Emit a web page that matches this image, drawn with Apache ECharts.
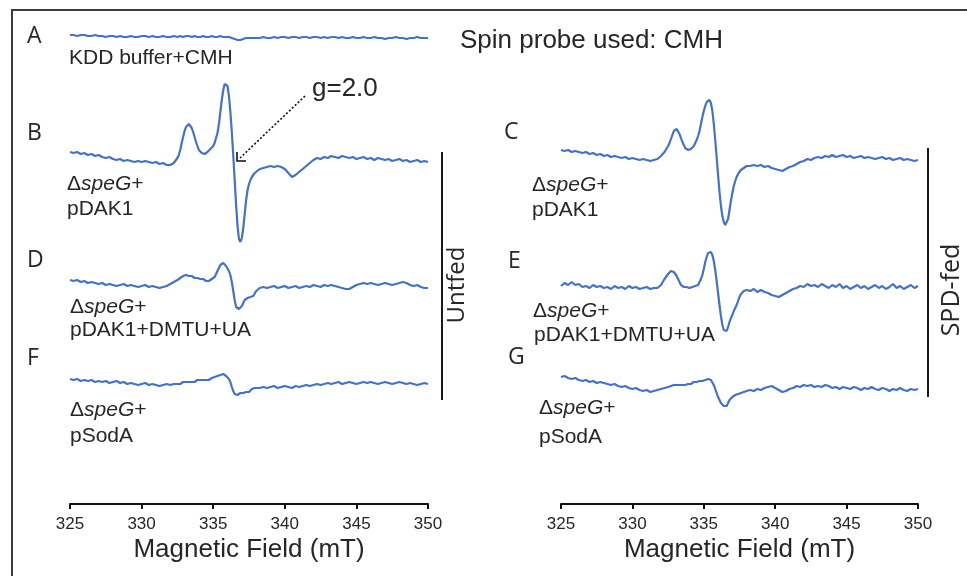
<!DOCTYPE html>
<html>
<head>
<meta charset="utf-8">
<script src="https://cdn.jsdelivr.net/npm/echarts@6/dist/echarts.min.js"></script>
<style>
html,body{margin:0;padding:0;background:#fff;}
#chart{width:967px;height:576px;}
</style>
</head>
<body>
<div id="chart"></div>
<script>
// ---------------- DATA ----------------
// Magnetic field (mT) sample positions shared by all spectra
const field = [
325,325.25,325.5,325.75,326,326.25,326.5,326.75,327,327.25,327.5,327.75,328,328.25,328.5,328.75,329,329.25,329.5,329.75,330,330.25,330.5,330.75,331,331.25,331.5,331.75,332,332.25,332.5,
332.6,332.7,332.8,332.9,333,333.1,333.2,333.3,333.4,333.5,333.6,333.7,333.8,333.9,334,334.1,334.2,334.3,334.4,334.5,334.6,334.7,334.8,334.9,335,335.1,335.2,335.3,335.4,335.5,335.6,335.7,335.8,335.9,336,336.1,336.2,336.3,336.4,336.5,336.6,336.7,336.8,336.9,337,337.1,337.2,337.3,337.4,337.5,337.6,337.7,337.8,337.9,338,
338.25,338.5,338.75,339,339.25,339.5,339.75,340,340.25,340.5,340.75,341,341.25,341.5,341.75,342,342.25,342.5,342.75,343,343.25,343.5,343.75,344,344.25,344.5,344.75,345,345.25,345.5,345.75,346,346.25,346.5,346.75,347,347.25,347.5,347.75,348,348.25,348.5,348.75,349,349.25,349.5,349.75,350
];
// EPR signal (arbitrary units) for each sample
const specA = [
2,2,1,2,2,1,1,2,1,1,0,1,1,0,1,0,0,1,0,0,1,1,0,1,0,0,1,0,0,1,0,
0,1,0,0,1, 1,0,1,1,0,0,1,0,0,1, 0,0,1,0,0,1,0,0,1,0, 0,1,0,0,1,0,0,1,0,0, 0,0,-1,-1,-2,-3,-3,-3,-3,-2, -2,-2,-1,-2,-1,-1,-1,-2,-1,-1,
-1,0,-1,-1,0,-1,0,0, -1,0,0,-1,0,0,-1,0, 0,-1,0,-1,0,0,-1,0, -1,-1,0,-1,-1,0,-1,-1, 0,-1,-1,-2,-1,-1,0,-1, -1,-2,-1,-1,0,-1,-1,-1
];
const specB = [
8,7,8,6,7,5,6,4,5,3,2,3,1,0,1,-1,0,-1,-2,-1,-2,-1,-2,-3,-2,-4,-3,-5,-5,-3,2,
5,10,17,23,29, 33,35,36,35,32,28,23,18,14,10, 8,7,6,6,7,8,10,11,12,14, 17,22,27,36,48,60,70,76,77,74, 64,48,28,5,-20,-45,-66,-79,-82,-78, -68,-54,-40,-30,-24,-20,-17,-15,-13,-11,
-9,-8,-7,-6,-7,-6,-7,-9, -13,-17,-15,-12,-9,-6,-3,0, 2,1,3,2,4,3,2,4, 3,2,3,1,2,3,1,2, 0,2,1,0,1,-1,0,1, -1,0,-2,-1,0,-2,-1,-2
];
const specD = [
6,5,6,4,5,3,4,3,2,3,1,2,1,0,1,2,0,1,0,-1,0,1,-1,0,-1,-2,-1,0,2,4,6,
7,8,9,10,10, 11,11,10,11,10,9,8,9,8,7, 7,6,7,6,5,6,5,6,7,7, 9,12,15,18,21,23,23,22,20,18, 15,11,4,-5,-14,-21,-23,-23,-22,-20, -17,-14,-13,-12,-13,-11,-12,-10,-8,-5,
-2,-1,-2,-1,0,-2,-1,0, -2,-1,0,-2,-1,0,-1,1, 0,-1,1,0,1,0,-1,-2, -3,-3,-1,1,2,3,2,3, 2,1,2,3,2,1,2,3, 4,3,1,0,1,-1,-2,-2
];
const specF = [
5,4,5,3,4,3,4,2,3,2,3,1,2,3,1,2,0,1,0,-1,0,1,-1,0,-1,-2,-1,0,-1,0,0,
1,0,1,2,1, 2,1,2,3,2,3,2,3,4,3, 4,3,4,5,4,5,4,5,6,6, 7,7,8,9,9,10,10,9,8,7, 5,2,-3,-7,-10,-11,-11,-10,-9,-10, -9,-8,-8,-7,-8,-6,-5,-6,-4,-5,
-4,-3,-4,-3,-2,-4,-3,-2, -3,-4,-2,-3,-2,-1,-2,-1, 0,-1,0,1,0,1,2,0, 1,2,1,0,1,2,1,2, 1,0,1,2,1,0,1,2, 1,0,1,0,-1,0,1,0
];
const specC = [
8,7,8,6,7,6,5,6,4,5,3,4,2,3,1,2,1,0,1,-1,0,-1,-2,-1,-2,-3,-2,-1,2,6,12,
15,19,23,27,29, 29,27,24,20,16,13,10,9,8,9, 9,10,12,14,18,22,27,34,41,47, 52,56,58,58,55,47,34,18,1,-17, -34,-48,-58,-64,-67,-66,-61,-52,-43,-35, -28,-23,-19,-16,-14,-12,-11,-10,-9,-8,
-8,-7,-8,-7,-9,-8,-10,-11, -12,-13,-11,-9,-8,-6,-4,-3, -1,-2,0,1,0,2,1,3, 1,2,3,1,2,0,1,2, 0,1,0,-1,0,1,-1,0, -2,-1,0,-2,-1,-2,-3,-2
];
const specE = [
1,4,2,5,2,3,0,1,-1,2,0,1,-1,0,-2,1,-1,0,-2,1,-1,0,-2,-1,0,-2,-1,-1,2,8,13,
14,16,15,15,13, 11,8,5,2,1,0,2,0,1,-1, 1,0,2,1,3,2,4,8,12,18, 25,30,34,36,35,32,26,17,6,-6, -18,-29,-38,-43,-45,-44,-40,-35,-31,-28, -24,-21,-18,-14,-10,-7,-5,-4,-3,-3,
-4,-2,-5,-3,-5,-6,-8,-9, -10,-8,-6,-4,-2,-1,1,0, 3,1,2,0,3,1,-1,2, 0,3,-1,1,-2,0,2,-1, 1,-2,0,2,-1,1,-2,0, 3,-1,1,-2,0,2,-1,1
];
const specG = [
10,11,9,8,9,7,6,7,5,6,4,5,4,3,2,3,1,0,1,-1,-2,-1,-3,-4,-3,-5,-4,-3,-2,-1,0,
0,1,0,2,1, 2,1,2,3,2,3,2,4,3,4, 3,4,5,4,5,4,6,5,6,6, 7,7,8,8,7,5,2,-2,-6,-10, -13,-16,-18,-19,-20,-19,-16,-13,-11,-10, -9,-8,-7,-7,-6,-6,-5,-5,-4,-4,
-3,-4,-2,-3,-1,0,1,-1, -3,-5,-4,-2,-1,1,0,2, 1,2,0,1,0,2,1,-1, 0,-2,0,-1,-2,0,-1,-3, -1,-2,0,-2,-3,-1,-2,-4, -2,-3,-1,-3,-4,-2,-3,-2
];
// axis range and tick step (mT)
const fieldMin = 325, fieldMax = 350, fieldStep = 5;
// texts
const panelLetters = ['A','B','D','F','C','E','G'];
const bufferLabel = 'KDD buffer+CMH';
const plasmidLabels = ['pDAK1', 'pDAK1+DMTU+UA', 'pSodA'];
const titleText = 'Spin probe used: CMH';
const gLabel = 'g=2.0';
const conditionLabels = ['Untfed', 'SPD-fed'];
const axisTitle = 'Magnetic Field (mT)';

// ---------------- LAYOUT ----------------
const LINE = '#4472C4';
const TXT = '#262626';
const SANS = '"Liberation Sans", Arial, sans-serif';
const OPEN = '"Open Sans", "Liberation Sans", sans-serif';
const spectra = [specA, specB, specD, specF, specC, specE, specG];
// [left, width, centerY, halfHeight, showAxis]
const layout = [
  [70, 358, 37, 30, false],
  [70, 358, 160, 100, false],
  [70, 358, 286, 60, false],
  [70, 358, 384, 120, true],
  [561, 357, 158, 100, false],
  [561, 357, 287, 60, false],
  [561, 357, 387, 117, true]
];

const grids = [], xAxes = [], yAxes = [], series = [];
layout.forEach((L, i) => {
  const [left, width, cy, h, showAxis] = L;
  grids.push({ left: left, width: width, top: cy - h, height: 2 * h, containLabel: false });
  xAxes.push({
    type: 'value', gridIndex: i, min: fieldMin, max: fieldMax, interval: fieldStep,
    show: showAxis, position: 'bottom',
    axisLine: { show: true, onZero: false, lineStyle: { color: '#111', width: 2 } },
    axisTick: { show: true, inside: false, length: 5, lineStyle: { color: '#111', width: 2 } },
    axisLabel: { show: true, margin: 12, fontSize: 17, color: TXT, fontFamily: SANS },
    splitLine: { show: false },
    name: showAxis ? axisTitle : '', nameLocation: 'middle', nameGap: 33,
    nameTextStyle: { fontSize: 26, color: TXT, fontFamily: SANS }
  });
  yAxes.push({ type: 'value', gridIndex: i, min: -h, max: h, show: false });
  const spec = spectra[i];
  series.push({
    type: 'line', xAxisIndex: i, yAxisIndex: i,
    data: field.map((f, k) => [f, spec[k]]),
    showSymbol: false, symbol: 'none', smooth: false,
    lineStyle: { color: LINE, width: 2.2 },
    silent: true, animation: false, clip: false
  });
});

function txt(x, y, text, size, family, extra) {
  return {
    type: 'text', x: x, y: y, silent: true,
    style: Object.assign({ text: text, fill: TXT, fontSize: size, fontFamily: family,
      textAlign: 'left', textVerticalAlign: 'middle' }, extra || {})
  };
}
function strain(x, y) {
  return {
    type: 'text', x: x, y: y, silent: true,
    style: {
      text: '{n|Δ}{i|speG}{n|+}', textAlign: 'left', textVerticalAlign: 'middle',
      rich: {
        n: { fontSize: 21, fontFamily: SANS, fill: TXT, color: TXT },
        i: { fontSize: 21, fontFamily: SANS, fontStyle: 'italic', fill: TXT, color: TXT }
      }
    }
  };
}

const graphics = [
  // frame
  { type: 'line', silent: true, shape: { x1: 12, y1: 10, x2: 967, y2: 10 }, style: { stroke: '#3c3c3c', lineWidth: 2 } },
  { type: 'line', silent: true, shape: { x1: 12, y1: 9, x2: 12, y2: 576 }, style: { stroke: '#3c3c3c', lineWidth: 2 } },
  // bracket bars
  { type: 'line', silent: true, shape: { x1: 442, y1: 152, x2: 442, y2: 400 }, style: { stroke: '#1a1a1a', lineWidth: 2 } },
  { type: 'line', silent: true, shape: { x1: 928, y1: 148, x2: 928, y2: 397 }, style: { stroke: '#1a1a1a', lineWidth: 2 } },
  // g=2.0 arrow
  { type: 'line', silent: true, shape: { x1: 305, y1: 96, x2: 240, y2: 158 }, style: { stroke: '#111', lineWidth: 1.6, lineDash: [2, 2] } },
  { type: 'polyline', silent: true, shape: { points: [[237, 152], [237, 161], [246, 161]] }, style: { stroke: '#111', lineWidth: 1.6, fill: null } },
  // letters
  txt(27, 36, panelLetters[0], 23, OPEN),
  txt(27, 133, panelLetters[1], 23, OPEN),
  txt(27, 260, panelLetters[2], 23, OPEN),
  txt(27, 358, panelLetters[3], 23, OPEN),
  txt(504, 132, panelLetters[4], 23, OPEN),
  txt(508, 261, panelLetters[5], 23, OPEN),
  txt(508, 357, panelLetters[6], 23, OPEN),
  // trace labels
  txt(69, 58, bufferLabel, 21, SANS),
  txt(460, 41, titleText, 26, SANS),
  txt(312, 89, gLabel, 26, SANS),
  strain(67, 184), txt(67, 209, plasmidLabels[0], 21, SANS),
  strain(70, 307), txt(70, 330, plasmidLabels[1], 21, SANS),
  strain(70, 410), txt(70, 436, plasmidLabels[2], 21, SANS),
  strain(532, 185), txt(532, 210, plasmidLabels[0], 21, SANS),
  strain(533, 311), txt(534, 335, plasmidLabels[1], 21, SANS),
  strain(539, 408), txt(539, 437, plasmidLabels[2], 21, SANS),
  // condition labels (rotated)
  Object.assign(txt(457, 285, conditionLabels[0], 24, OPEN, { textAlign: 'center' }), { rotation: Math.PI / 2 }),
  Object.assign(txt(952, 290, conditionLabels[1], 25, OPEN, { textAlign: 'center' }), { rotation: Math.PI / 2 })
];

const chart = echarts.init(document.getElementById('chart'), null, { renderer: 'canvas' });
chart.setOption({
  animation: false,
  backgroundColor: '#ffffff',
  grid: grids,
  xAxis: xAxes,
  yAxis: yAxes,
  series: series,
  graphic: graphics
});
</script>
</body>
</html>
